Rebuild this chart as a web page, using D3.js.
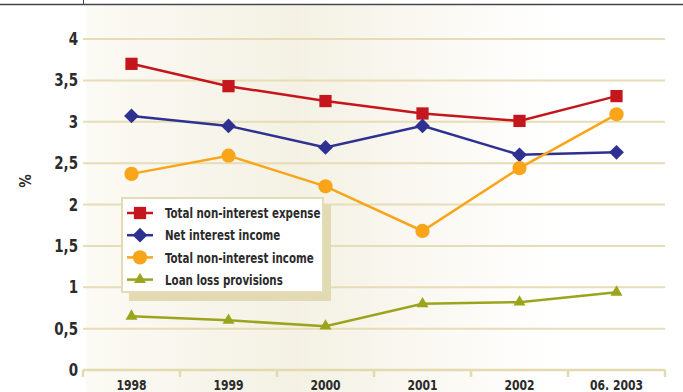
<!DOCTYPE html>
<html>
<head>
<meta charset="utf-8">
<script src="https://cdn.jsdelivr.net/npm/d3@7"></script>
<style>
  html, body { margin: 0; padding: 0; background: #fff; }
  svg { display: block; }
  .lbl { font-family: "DejaVu Sans Condensed", "DejaVu Sans", sans-serif; font-weight: bold; font-stretch: condensed; fill: #2b2b2b; }
</style>
</head>
<body>
<svg id="chart" width="683" height="392"></svg>
<script>
// Categories on the horizontal axis
const years = ["1998", "1999", "2000", "2001", "2002", "06. 2003"];

// Ratios in percent
const nonInterestExpense = [3.70, 3.43, 3.25, 3.10, 3.01, 3.31];
const netInterestIncome  = [3.07, 2.95, 2.69, 2.95, 2.60, 2.63];
const nonInterestIncome  = [2.37, 2.59, 2.22, 1.68, 2.44, 3.09];
const loanLossProvisions = [0.65, 0.60, 0.53, 0.80, 0.82, 0.94];

const yTicks = [0, 0.5, 1, 1.5, 2, 2.5, 3, 3.5, 4];
const yTickLabels = ["0", "0,5", "1", "1,5", "2", "2,5", "3", "3,5", "4"];

const seriesNames = ["Total non-interest expense", "Net interest income", "Total non-interest income", "Loan loss provisions"];

const series = [
  { name: seriesNames[0], values: nonInterestExpense, color: "#c4161c", symbol: d3.symbolSquare, size: 150, rot: 0 },
  { name: seriesNames[1], values: netInterestIncome,  color: "#2e3192", symbol: d3.symbolSquare, size: 110, rot: 45 },
  { name: seriesNames[2], values: nonInterestIncome,  color: "#f9a51a", symbol: d3.symbolCircle, size: 160, rot: 0 },
  { name: seriesNames[3], values: loanLossProvisions, color: "#9aa51c", symbol: d3.symbolTriangle, size: 62, rot: 0 }
];

const svg = d3.select("#chart");
const plotLeft = 83, plotRight = 665, plotTop = 39, plotBottom = 370;

const x = d3.scaleBand().domain(years).range([plotLeft, plotRight]);
const y = d3.scaleLinear().domain([0, 4]).range([plotBottom, plotTop]);
const cx = d => x(d) + x.bandwidth() / 2;

// Condensed text helper: narrows glyphs horizontally around the anchor point
function label(sel, px, py, str, size, sx, anchor) {
  return sel.append("text").attr("class", "lbl")
    .attr("transform", `translate(${px},${py}) scale(${sx},1)`)
    .attr("font-size", size).attr("text-anchor", anchor || "start")
    .text(str);
}

// Panel background gradient
const defs = svg.append("defs");
const grad = defs.append("linearGradient").attr("id", "bg").attr("x1", 0).attr("x2", 1).attr("y1", 0).attr("y2", 0);
grad.append("stop").attr("offset", "0%").attr("stop-color", "#fbfaf4");
grad.append("stop").attr("offset", "45%").attr("stop-color", "#f4f1e4");
grad.append("stop").attr("offset", "100%").attr("stop-color", "#ffffff");
svg.append("rect").attr("x", plotLeft + 3).attr("y", 6).attr("width", 470).attr("height", 386).attr("fill", "url(#bg)");

// Frame line at the top
svg.append("line").attr("x1", 0).attr("x2", 683).attr("y1", 4.5).attr("y2", 4.5).attr("stroke", "#444").attr("stroke-width", 1.5);
svg.append("line").attr("x1", plotLeft + 0.5).attr("x2", plotLeft + 0.5).attr("y1", 0).attr("y2", 4).attr("stroke", "#444").attr("stroke-width", 1);

// Horizontal gridlines
svg.append("g").selectAll("line").data(yTicks.filter(t => t > 0)).join("line")
  .attr("x1", plotLeft).attr("x2", plotRight)
  .attr("y1", d => y(d)).attr("y2", d => y(d))
  .attr("stroke", "#e6ddb6").attr("stroke-width", 2);

// Y tick labels
const yLab = svg.append("g");
yTicks.forEach((t, i) => label(yLab, 78, y(t) + 6, yTickLabels[i], 17, 0.88, "end"));

// X axis with band boundary ticks
const xAxis = svg.append("g").attr("transform", `translate(0,${plotBottom})`)
  .call(d3.axisBottom(x).tickSize(0).tickFormat(""));
xAxis.select(".domain").remove();
xAxis.append("line").attr("x1", plotLeft).attr("x2", plotRight).attr("y1", 0).attr("y2", 0)
  .attr("stroke", "#e3daaf").attr("stroke-width", 2.5);
const edges = years.map(d => x(d)).concat([plotRight]);
xAxis.selectAll(".edge").data(edges).join("line").attr("class", "edge")
  .attr("x1", d => d).attr("x2", d => d).attr("y1", 0).attr("y2", 7)
  .attr("stroke", "#e3daaf").attr("stroke-width", 2.5);
years.forEach(d => label(xAxis, cx(d), 20, d, 14, 0.86, "middle"));

// Axis title
svg.append("text").attr("class", "lbl").attr("font-size", 15)
  .attr("transform", "translate(31,181) rotate(-90)").attr("text-anchor", "middle").text("%");

// Lines and markers
const line = d3.line().x((d, i) => cx(years[i])).y(d => y(d));
series.forEach(s => {
  svg.append("path").datum(s.values).attr("d", line)
    .attr("fill", "none").attr("stroke", s.color).attr("stroke-width", 2.5);
  svg.append("g").selectAll("path").data(s.values).join("path")
    .attr("transform", (d, i) => `translate(${cx(years[i])},${y(d)}) rotate(${s.rot})`)
    .attr("d", d3.symbol().type(s.symbol).size(s.size)())
    .attr("fill", s.color);
});

// Legend with offset shadow
const lg = svg.append("g");
lg.append("rect").attr("x", 129).attr("y", 205).attr("width", 202).attr("height", 96).attr("fill", "#e2dab2");
lg.append("rect").attr("x", 122).attr("y", 198).attr("width", 201).attr("height", 94)
  .attr("fill", "#ffffff").attr("stroke", "#e4dcb6").attr("stroke-width", 2);
series.forEach((s, i) => {
  const ry = 213 + i * 22.2;
  lg.append("line").attr("x1", 127).attr("x2", 153).attr("y1", ry).attr("y2", ry)
    .attr("stroke", s.color).attr("stroke-width", 2.5);
  lg.append("path").attr("transform", `translate(140,${ry}) rotate(${s.rot})`)
    .attr("d", d3.symbol().type(s.symbol).size(s.size)()).attr("fill", s.color);
  label(lg, 165, ry + 5.2, s.name, 14.5, 0.79, "start");
});
</script>
</body>
</html>
